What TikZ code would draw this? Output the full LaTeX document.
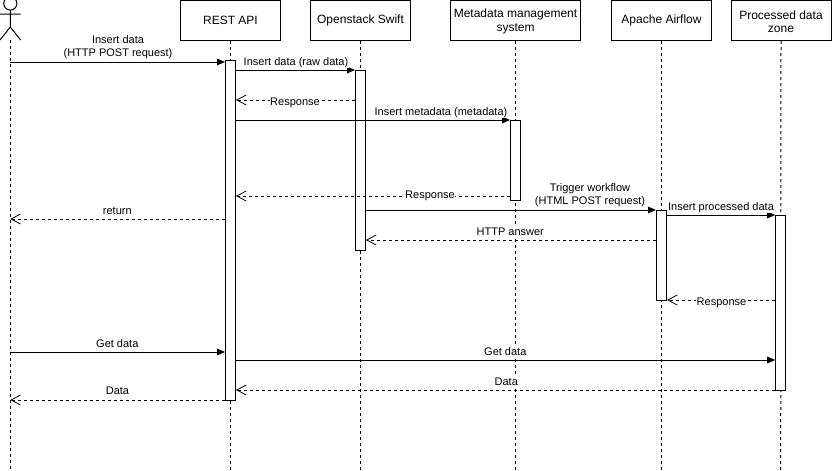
\documentclass[tikz,border=0pt]{standalone}
\usepackage{fontspec}
\setmainfont{Liberation Sans}
\usetikzlibrary{arrows.meta}
\tikzset{
  headbox/.style={draw=black,fill=white,minimum height=30pt,inner sep=0pt,align=center,font=\fontsize{9}{10.3}\selectfont},
  actbox/.style={draw=black,fill=white,minimum width=7.5pt,inner sep=0pt},
  lifeline/.style={draw=black,dash pattern=on 2.25pt off 2.25pt},
  callmsg/.style={draw=black,-{Triangle[length=6pt,width=5pt,fill=black]}},
  retmsg/.style={draw=black,dash pattern=on 2.25pt off 2.25pt,-{Straight Barb[length=7pt,width=7.5pt,line width=0.6pt]}},
  msgtext/.style={inner sep=0.5pt,align=center,fill=white,font=\fontsize{8.25}{9.6}\selectfont}
}
\begin{document}
\begin{tikzpicture}[x=0.75pt,y=-0.75pt,line width=0.75pt]
\useasboundingbox (0,0) rectangle (832,471);
\clip (0,0) rectangle (832,471);
\fill[white] (0,0) rectangle (832,471);
% actor
\coordinate (actor) at (10.3,40);
\coordinate (actorend) at (10.3,470);
\draw (10.3,3.5) circle[radius=4.95pt];
\draw (10.3,10) -- (10.3,27) (0,14) -- (20.6,14) (0,40) -- (10.3,27) -- (20.6,40);
% heads
\node[headbox,minimum width=75pt] (rest) at (230.5,20) {REST API};
\node[headbox,minimum width=75pt] (swift) at (360.5,20) {Openstack Swift};
\node[headbox,minimum width=97.5pt] (meta) at (515.5,20.5) {\rule{0pt}{8.2pt}Metadata management\\system};
\node[headbox,minimum width=75pt] (air) at (661.5,20) {Apache Airflow};
\node[headbox,minimum width=75pt] (proc) at (781,20.5) {\rule{0pt}{8.2pt}Processed data\\zone};
% lifelines
\coordinate (restend) at (230.5,470);
\coordinate (swiftend) at (360.5,470);
\coordinate (metaend) at (515.5,470);
\coordinate (airend) at (661.5,470);
\coordinate (procend) at (780.7,470);
\draw[lifeline] (rest.south) -- (restend);
\draw[lifeline] (swift.south) -- (swiftend);
\draw[lifeline] (meta.south) -- (metaend);
\draw[lifeline] (air.south) -- (airend);
\draw[lifeline] (proc.south) -- (procend);
\draw[lifeline] (actor) -- (actorend);
% activations
\node[actbox,minimum height=255pt] (arest) at (230.5,230) {};
\node[actbox,minimum height=135pt] (aswift) at (360.5,160) {};
\node[actbox,minimum height=60pt] (ameta) at (515.5,160) {};
\node[actbox,minimum height=67.5pt] (aair) at (661.5,255) {};
\node[actbox,minimum height=131.25pt] (aproc) at (780.7,302.5) {};
% messages
\draw[callmsg] (actor |- 0,62) -- (arest.west |- 0,62);
\node[msgtext] (m1) at (118,47.5) {Insert data\\(HTTP POST request)};
\draw[callmsg] (arest.east |- 0,70) -- (aswift.west |- 0,70);
\node[msgtext] (m2) at (296,62.7) {Insert data (raw data)};
\draw[retmsg] (aswift.west |- 0,100) -- (arest.east |- 0,100);
\node[msgtext] (m3) at (295,102.7) {Response};
\draw[callmsg] (arest.east |- 0,120) -- (ameta.west |- 0,120);
\node[msgtext] (m4) at (441,112.7) {Insert metadata (metadata)};
\draw[retmsg] (ameta.west |- 0,196) -- (arest.east |- 0,196);
\node[msgtext] (m5) at (430,195.7) {Response};
\draw[retmsg] (arest.west |- 0,219) -- (actor |- 0,219);
\node[msgtext] (m6) at (117.3,211) {return};
\draw[callmsg] (aswift.east |- 0,210) -- (aair.west |- 0,210);
\node[msgtext] (m7) at (590,195) {Trigger workflow\\(HTML POST request)};
\draw[retmsg] (aair.west |- 0,240) -- (aswift.east |- 0,240);
\node[msgtext] (m8) at (510.3,232) {HTTP answer};
\draw[callmsg] (aair.east |- 0,215) -- (aproc.west |- 0,215);
\node[msgtext] (m9) at (721,207.7) {Insert processed data};
\draw[retmsg] (aproc.west |- 0,300) -- (aair.east |- 0,300);
\node[msgtext] (m10) at (721.5,302.7) {Response};
\draw[callmsg] (actor |- 0,352) -- (arest.west |- 0,352);
\node[msgtext] (m11) at (117.3,344) {Get data};
\draw[callmsg] (arest.east |- 0,360) -- (aproc.west |- 0,360);
\node[msgtext] (m12) at (505.3,352) {Get data};
\draw[retmsg] (aproc.west |- 0,390) -- (arest.east |- 0,390);
\node[msgtext] (m13) at (506.3,382) {Data};
\draw[retmsg] (arest.west |- 0,400) -- (actor |- 0,400);
\node[msgtext] (m14) at (117.5,391) {Data};
\end{tikzpicture}
\end{document}
